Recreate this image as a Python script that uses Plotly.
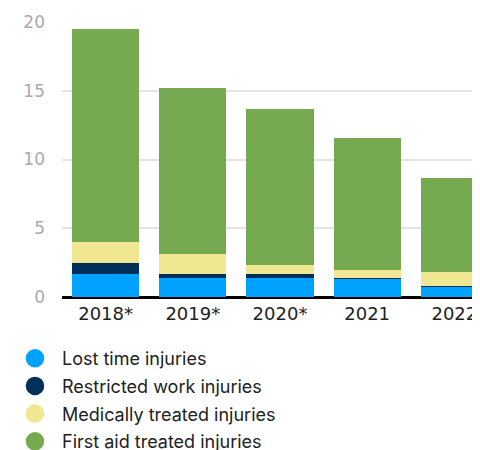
import plotly.graph_objects as go

years = ["2018*", "2019*", "2020*", "2021", "2022"]
lost_time = [1.65, 1.36, 1.36, 1.31, 0.73]
restricted = [0.80, 0.29, 0.29, 0.07, 0.07]
medical = [1.55, 1.45, 0.66, 0.56, 1.00]
first_aid = [15.5, 12.1, 11.35, 9.6, 6.84]

series = [
    ("Lost time injuries", lost_time, "#00a2ff"),
    ("Restricted work injuries", restricted, "#00305a"),
    ("Medically treated injuries", medical, "#f0e793"),
    ("First aid treated injuries", first_aid, "#76aa51"),
]

fig = go.Figure()
for name, vals, col in series:
    fig.add_trace(go.Bar(x=years, y=vals, name=name, marker=dict(color=col, line=dict(width=0)),
                         showlegend=False, hoverinfo="skip"))
for i, (name, vals, col) in enumerate(series):
    fig.add_trace(go.Scatter(x=[None], y=[None], mode="markers", name=name, legendgroup=f"g{i}",
                             marker=dict(color=col, size=16, symbol="circle", line=dict(color=col, width=2.5))))

W, H = 472, 442
fig.update_layout(
    width=W, height=H,
    margin=dict(l=54, r=0, t=14, b=153, autoexpand=False),
    barmode="stack", bargap=0.23,
    plot_bgcolor="white", paper_bgcolor="white",
    font=dict(family="DejaVu Sans", size=16, color="#222222"),
    legend=dict(xref="container", yref="container", x=0.0, y=1 - 332 / H, yanchor="top", xanchor="left",
                traceorder="grouped", tracegroupgap=1.3, font=dict(family="Inter", size=18, color="#222222"),
                itemwidth=44, bgcolor="rgba(0,0,0,0)"),
    xaxis=dict(type="category", range=[-0.5, 4.294], showgrid=False, showline=False, ticks="", tickangle=0,
               ticklabelstandoff=4,
               tickfont=dict(family="DejaVu Sans", size=18, color="#222222")),
    yaxis=dict(range=[0, 20], tickvals=[0, 5, 10, 15, 20], showgrid=True, gridcolor="#e4e4e4", gridwidth=2,
               zeroline=True, zerolinecolor="black", zerolinewidth=3, ticks="", ticklabelstandoff=16,
               tickfont=dict(family="DejaVu Sans", size=17, color="#aaaaaa")),
)
fig.write_html("out.html")
